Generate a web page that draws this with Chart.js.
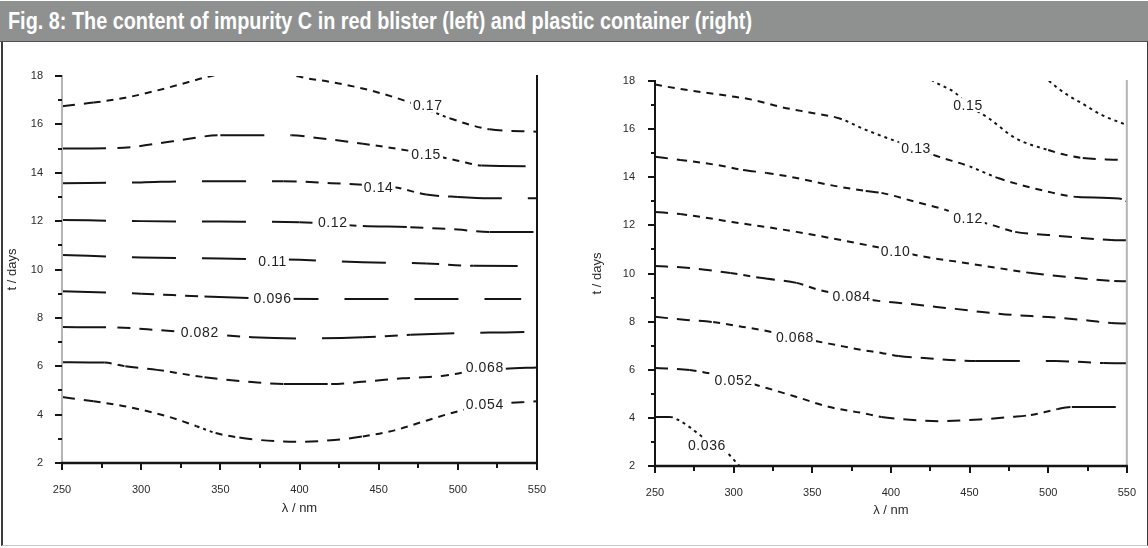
<!DOCTYPE html>
<html>
<head>
<meta charset="utf-8">
<title>Impurity C content</title>
<script src="https://cdn.jsdelivr.net/npm/chart.js"></script>
<style>
  html, body { margin: 0; padding: 0; background: #fff; }
  body { width: 1148px; height: 548px; position: relative; overflow: hidden; font-family: "Liberation Sans", Arial, sans-serif; }
  #bar { position: absolute; left: 0; top: 1px; width: 1148px; height: 40px; background: #8f9191; border-bottom: 1px solid #505252; }
  #bar span { position: absolute; left: 8px; top: 8px; color: #fff; font-weight: bold; font-size: 24px; line-height: 24px; white-space: nowrap; transform-origin: 0 0; font-family: "Liberation Sans Narrow", "Arial Narrow", "Liberation Sans", Arial, sans-serif; }
  #panel { position: absolute; left: 1px; top: 42px; width: 1144px; height: 503px; border-left: 2px solid #3c3c3c; border-right: 1px solid #3c3c3c; border-bottom: 1px solid #c8c8c8; }
  canvas { position: absolute; }
  #blister { left: 0; top: 44px; }
  #container { left: 574px; top: 44px; }
</style>
</head>
<body>
<div id="bar"><span id="caption">Fig. 8: The content of impurity C in red blister (left) and plastic container (right)</span></div>
<div id="panel"></div>
<canvas id="blister" width="570" height="500"></canvas>
<canvas id="container" width="574" height="500"></canvas>
<script>
// Axis ranges (wavelength in nm, time in days)
const xRange = [250, 550];
const yRange = [2, 18];

// Red blister: contour levels and their traced lines [nm, days]
const blisterLevels = [0.054, 0.068, 0.082, 0.096, 0.11, 0.12, 0.14, 0.15, 0.17];
const b054 = [[250,4.73],[270,4.55],[293,4.3],[318,3.9],[335,3.52],[347,3.24],[362,3.05],[375,2.95],[400,2.88],[422,2.95],[440,3.1],[460,3.35],[480,3.75],[498,4.1],[520,4.4],[550,4.55]];
const b068 = [[250,6.17],[277,6.15],[290,6.0],[310,5.85],[340,5.55],[370,5.35],[390,5.27],[420,5.27],[445,5.39],[465,5.5],[490,5.6],[510,5.8],[530,5.9],[550,5.95]];
const b082 = [[250,7.62],[285,7.6],[310,7.5],[340,7.35],[370,7.2],[400,7.15],[440,7.2],[470,7.3],[500,7.37],[530,7.4],[550,7.42]];
const b096 = [[250,9.1],[300,9.0],[340,8.88],[380,8.8],[420,8.78],[480,8.78],[540,8.78]];
const b110 = [[250,10.6],[300,10.5],[350,10.45],[400,10.4],[440,10.3],[480,10.25],[510,10.15],[550,10.14]];
const b120 = [[250,12.05],[300,12.0],[350,11.98],[400,11.95],[440,11.8],[470,11.75],[500,11.65],[520,11.55],[550,11.55]];
const b140 = [[250,13.57],[300,13.6],[330,13.65],[390,13.65],[420,13.57],[440,13.5],[460,13.4],[480,13.1],[500,13.0],[520,12.95],[550,12.95]];
const b150 = [[250,15.0],[285,15.02],[320,15.3],[350,15.55],[395,15.55],[410,15.45],[440,15.2],[470,14.9],[500,14.5],[515,14.3],[550,14.27]];
const b170 = [[250,16.75],[270,16.9],[290,17.1],[310,17.4],[330,17.75],[341,17.95],[360,18.15],[390,18.1],[405,17.9],[420,17.75],[445,17.4],[470,16.9],[495,16.25],[520,15.8],[550,15.7]];
const blisterLines = [b054, b068, b082, b096, b110, b120, b140, b150, b170];
const blisterLabelAt = [[517,4.44],[517,5.97],[337,7.41],[383,8.82],[383,10.35],[421,11.96],[450,13.42],[480,14.77],[481,16.8]];

// Plastic container: contour levels and their traced lines [nm, days]
const containerLevels = [0.036, 0.052, 0.068, 0.084, 0.10, 0.12, 0.13, 0.15, 0.164];
const c036 = [[250,4.04],[259.5,4.04],[266,3.87],[277,3.37],[285,2.95],[296,2.54],[302,2.12],[306,1.85]];
const c052 = [[250,6.07],[272,5.99],[300,5.62],[321,5.24],[340,4.87],[361,4.45],[382,4.2],[394,4.04],[407,3.95],[430,3.86],[460,3.95],[477,4.04],[489,4.12],[498,4.24],[506,4.37],[515,4.45],[550,4.45]];
const c068 = [[250,8.2],[270,8.07],[287,7.98],[306,7.78],[318,7.65],[339,7.36],[365,7.03],[382,6.82],[394,6.7],[405,6.57],[421,6.49],[454,6.36],[505,6.36],[535,6.28],[550,6.27]];
const c084 = [[250,10.31],[272,10.23],[298,10.02],[318,9.81],[340,9.61],[354,9.32],[375,9.05],[385,8.92],[413,8.73],[429,8.61],[441,8.53],[458,8.4],[477,8.28],[500,8.19],[522,8.07],[540,7.94],[550,7.92]];
const c100 = [[250,12.56],[266,12.47],[287,12.27],[299,12.14],[321,11.93],[340,11.73],[361,11.48],[384,11.19],[403,10.94],[426,10.64],[443,10.48],[468,10.23],[489,10.02],[511,9.86],[542,9.69],[550,9.68]];
const c116 = [[250,14.85],[266,14.72],[293,14.47],[306,14.3],[321,14.18],[340,13.97],[361,13.68],[384,13.43],[394,13.35],[416,12.97],[435,12.64],[449,12.31],[465,12.0],[479,11.73],[500,11.6],[521,11.48],[540,11.39],[550,11.38]];
const c132 = [[250,17.85],[266,17.67],[297,17.38],[312,17.22],[330,16.92],[350,16.67],[367,16.45],[384,15.97],[405,15.46],[416,15.22],[427,14.93],[450,14.45],[468,13.97],[500,13.4],[519,13.18],[545,13.12],[550,13.0]];
const c148 = [[418,18.35],[428,17.96],[441,17.5],[449,17.0],[462,16.46],[479,15.63],[500,15.13],[511,14.93],[522,14.8],[545,14.72],[550,14.7]];
const c164 = [[497,18.2],[506,17.71],[514,17.35],[521,17.09],[534,16.59],[550,16.17]];
const containerLines = [c036, c052, c068, c084, c100, c116, c132, c148, c164];
const containerLabelAt = [[283,2.87],[300,5.57],[339,7.36],[375,9.07],[403,10.94],[449,12.31],[416,15.22],[449,17.0], null];

// Tick labels
const xTickLabels = [250, 300, 350, 400, 450, 500, 550];
const yTickLabels = [2, 4, 6, 8, 10, 12, 14, 16, 18];

const ink = '#151515';
const tickFont = { family: '"Liberation Sans", Arial, sans-serif', size: 11 };
const titleFont = { family: '"Liberation Sans", Arial, sans-serif', size: 13 };

function levelText(v) { return v < 0.1 ? v.toFixed(3) : v.toFixed(2); }

// Thin contour strokes break into long dashes where flat and short ones where steep
function dashBySlope(ctx) {
  const a = ctx.p0, b = ctx.p1;
  const dx = Math.abs(b.x - a.x) || 0.5;
  const s = Math.abs(b.y - a.y) / dx;
  if (s < 0.04) return [44, 26];
  if (s < 0.14) return [13, 9];
  if (s < 0.35) return [7, 6];
  return [3, 4];
}

function toDatasets(lines) {
  return lines.map(pts => ({
    data: pts.map(([x, y]) => ({ x, y })),
    showLine: true,
    borderColor: ink,
    borderWidth: 2,
    pointRadius: 0,
    cubicInterpolationMode: 'monotone',
    segment: { borderDash: dashBySlope }
  }));
}

// Axis lines and major/minor tick marks
const frame = {
  id: 'frame',
  afterDraw(chart, args, opts) {
    const { ctx, chartArea: a, scales: { x, y } } = chart;
    ctx.save();
    ctx.setLineDash([]);
    ctx.lineCap = 'butt';
    const seg = (x1, y1, x2, y2, c, w) => {
      ctx.strokeStyle = c; ctx.lineWidth = w;
      ctx.beginPath(); ctx.moveTo(x1, y1); ctx.lineTo(x2, y2); ctx.stroke();
    };
    seg(a.left, a.top - 1, a.left, a.bottom, opts.left, 2);
    seg(a.right, a.top - 1, a.right, a.bottom, opts.right, 2);
    seg(a.left - 1, a.bottom, a.right + 1, a.bottom, ink, 2.5);
    x.ticks.forEach(t => {
      const px = Math.round(x.getPixelForValue(t.value));
      const len = xTickLabels.includes(t.value) ? 7 : 5;
      seg(px, a.bottom, px, a.bottom + len, ink, 2);
    });
    y.ticks.forEach(t => {
      const py = Math.round(y.getPixelForValue(t.value));
      const len = yTickLabels.includes(t.value) ? 7 : 4;
      seg(a.left - len, py, a.left, py, ink, 2);
    });
    ctx.restore();
  }
};

// Level labels sitting on their contour lines
const levelLabels = {
  id: 'levelLabels',
  afterDatasetsDraw(chart, args, opts) {
    const { ctx, scales: { x, y } } = chart;
    ctx.save();
    ctx.font = '14px "Liberation Sans", Arial, sans-serif';
    if ('letterSpacing' in ctx) ctx.letterSpacing = '0.6px';
    ctx.textAlign = 'center';
    ctx.textBaseline = 'middle';
    opts.levels.forEach((lv, i) => {
      const at = opts.positions[i];
      if (!at) return;
      const px = x.getPixelForValue(at[0]);
      const py = y.getPixelForValue(at[1]);
      const txt = levelText(lv);
      const w = ctx.measureText(txt).width + 4;
      ctx.fillStyle = '#fff';
      ctx.fillRect(px - w / 2, py - 7, w, 14);
      ctx.fillStyle = '#222';
      ctx.fillText(txt, px, py + 1);
    });
    ctx.restore();
  }
};

function makeChart(id, lines, levels, labelAt, geo) {
  return new Chart(document.getElementById(id), {
    type: 'scatter',
    data: { datasets: toDatasets(lines) },
    options: {
      responsive: false,
      animation: false,
      events: [],
      layout: { padding: { top: geo.top, right: geo.right, left: 0, bottom: 0 } },
      plugins: {
        legend: { display: false },
        tooltip: { enabled: false },
        frame: { left: geo.leftAxis, right: geo.rightAxis },
        levelLabels: { levels, positions: labelAt }
      },
      scales: {
        x: {
          type: 'linear', min: xRange[0], max: xRange[1],
          grid: { display: false }, border: { display: false },
          afterFit: s => { s.height = geo.xHeight; },
          ticks: {
            stepSize: 25, autoSkip: false, maxRotation: 0, padding: 12,
            color: '#2a2a2a', font: tickFont,
            callback: v => xTickLabels.includes(v) ? String(v) : ''
          },
          title: { display: true, text: 'λ / nm', color: '#2a2a2a', font: titleFont, padding: { top: 0, bottom: geo.xTitlePad } }
        },
        y: {
          type: 'linear', min: yRange[0], max: yRange[1],
          grid: { display: false }, border: { display: false },
          afterFit: s => { s.width = geo.yWidth; },
          ticks: {
            stepSize: 1, autoSkip: false, padding: geo.yTickPad,
            color: '#2a2a2a', font: tickFont,
            callback: v => yTickLabels.includes(v) ? String(v) : ''
          },
          title: { display: true, text: 't / days', color: '#2a2a2a', font: titleFont, padding: { top: geo.yTitlePad, bottom: 0 } }
        }
      }
    },
    plugins: [frame, levelLabels]
  });
}

makeChart('blister', blisterLines, blisterLevels, blisterLabelAt, {
  top: 32, right: 33, xHeight: 81, yWidth: 62, yTickPad: 11, xTitlePad: 28, yTitlePad: 5,
  leftAxis: '#b4b4b4', rightAxis: ink
});
makeChart('container', containerLines, containerLevels, containerLabelAt, {
  top: 37, right: 19, xHeight: 78, yWidth: 81, yTickPad: 12, xTitlePad: 26, yTitlePad: 16,
  leftAxis: ink, rightAxis: '#b4b4b4'
});

// Fit the caption into the header width
const cap = document.getElementById('caption');
const capW = cap.getBoundingClientRect().width;
if (capW > 0) cap.style.transform = 'scaleX(' + (744 / capW) + ')';
</script>
</body>
</html>
